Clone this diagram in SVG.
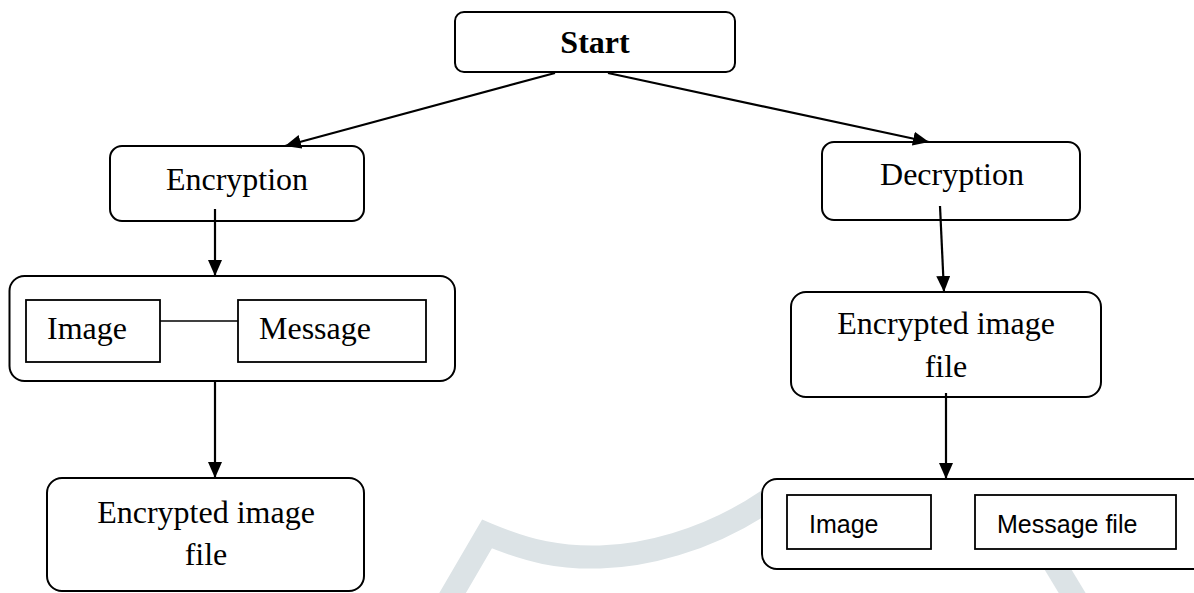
<svg xmlns="http://www.w3.org/2000/svg" width="1194" height="593" viewBox="0 0 1194 593">
  <style>
    .box { fill: #ffffff; stroke: #000000; stroke-width: 2; }
    .inner { fill: #ffffff; stroke: #000000; stroke-width: 1.8; }
    .serif { font-family: "Liberation Serif", "Times New Roman", serif; font-size: 32px; fill: #000000; }
    .sans { font-family: "Liberation Sans", Arial, sans-serif; font-size: 25px; fill: #000000; }
    .mid { text-anchor: middle; }
    .conn { stroke: #000000; stroke-width: 2.2; fill: none; marker-end: url(#arrow); }
    .wm { stroke: #dce3e6; stroke-width: 23; fill: none; stroke-linejoin: miter; }
  </style>
  <defs>
    <marker id="arrow" markerUnits="userSpaceOnUse" markerWidth="16" markerHeight="14" refX="16" refY="7" orient="auto">
      <path d="M0,0 L16,7 L0,14 z" fill="#000000"/>
    </marker>
  </defs>
  <rect x="0" y="0" width="1194" height="593" fill="#ffffff"/>
  <g id="watermark">
    <path class="wm" d="M445,606 L487,534 C530,552 560,558 600,557 S705,543 768,500"/>
    <path class="wm" d="M1048,553 L1080,606"/>
  </g>
  <g id="connectors">
    <line class="conn" x1="555" y1="73" x2="285" y2="146"/>
    <line class="conn" x1="608" y1="73" x2="929" y2="142"/>
    <line class="conn" x1="215" y1="209" x2="215" y2="276"/>
    <line class="conn" x1="215" y1="381" x2="215" y2="478"/>
    <line class="conn" x1="940" y1="206" x2="944" y2="292"/>
    <line class="conn" x1="946" y1="393" x2="946" y2="479"/>
  </g>
  <g id="start">
    <rect class="box" x="455" y="12" width="280" height="60" rx="9"/>
    <text class="serif mid" x="595" y="53" font-weight="bold" font-size="30">Start</text>
  </g>
  <g id="encryption">
    <rect class="box" x="110" y="146" width="254" height="75" rx="12" fill-opacity="0"/>
    <text class="serif mid" x="237" y="190">Encryption</text>
  </g>
  <g id="enc-inputs">
    <rect class="box" x="9.5" y="276" width="445.5" height="105" rx="15"/>
    <g id="enc-image">
      <rect class="inner" x="26" y="300" width="134" height="62"/>
      <text class="serif" x="47" y="339">Image</text>
    </g>
    <line x1="160" y1="321" x2="238" y2="321" stroke="#000000" stroke-width="1.6"/>
    <g id="enc-message">
      <rect class="inner" x="238" y="300" width="188" height="62"/>
      <text class="serif" x="259" y="339">Message</text>
    </g>
  </g>
  <g id="enc-output">
    <rect class="box" x="47" y="478" width="317" height="113" rx="15"/>
    <text class="serif mid" x="206" y="523">Encrypted image</text>
    <text class="serif mid" x="206" y="565">file</text>
  </g>
  <g id="decryption">
    <rect class="box" x="822" y="142" width="258" height="78" rx="12" fill-opacity="0"/>
    <text class="serif mid" x="952" y="185">Decryption</text>
  </g>
  <g id="dec-input">
    <rect class="box" x="791" y="292" width="310" height="105" rx="15" fill-opacity="0"/>
    <text class="serif mid" x="946" y="334">Encrypted image</text>
    <text class="serif mid" x="946" y="377">file</text>
  </g>
  <g id="dec-outputs">
    <rect class="box" x="762" y="479" width="460" height="90" rx="15"/>
    <g id="dec-image">
      <rect class="inner" x="787" y="495" width="144" height="54"/>
      <text class="sans" x="809" y="533">Image</text>
    </g>
    <g id="dec-message">
      <rect class="inner" x="975" y="495" width="201" height="54"/>
      <text class="sans" x="997" y="533">Message file</text>
    </g>
  </g>
</svg>
